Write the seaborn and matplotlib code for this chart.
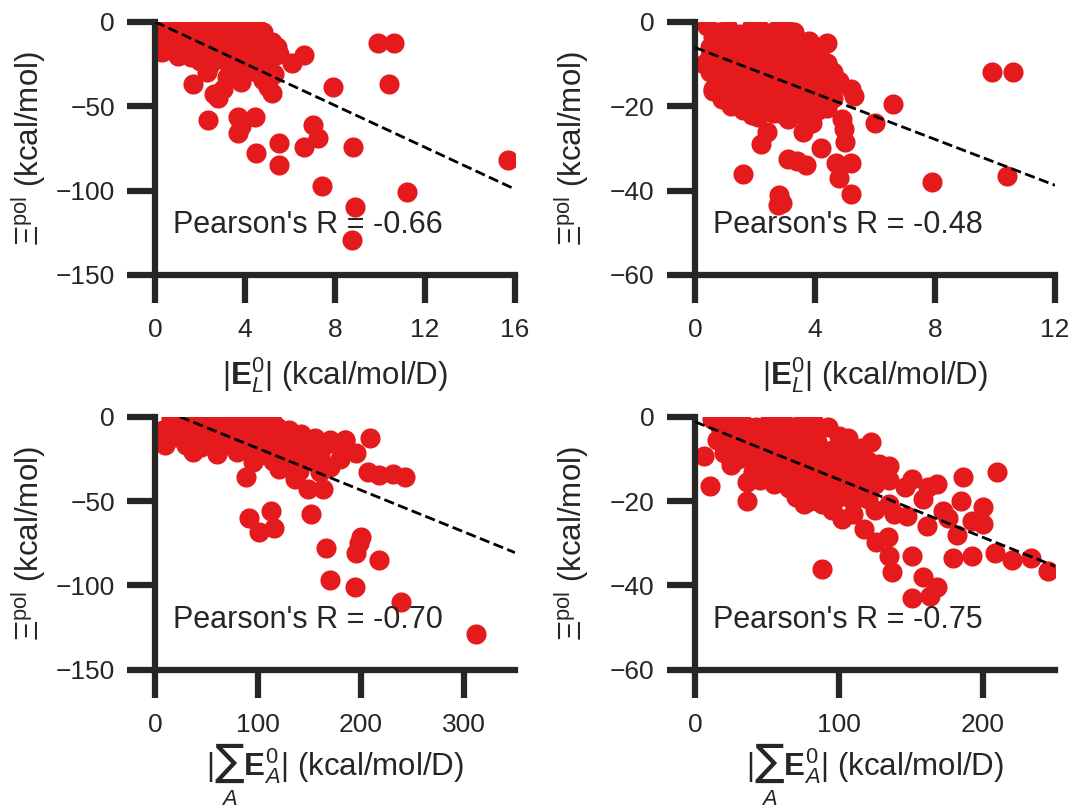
import matplotlib
matplotlib.use("Agg")
import matplotlib.pyplot as plt
import seaborn as sns
import numpy as np
import pandas as pd

# ---------------- data ----------------
# top-left: |E_L^0| vs Xi_pol (set 1)
tl_x = [0.3, 0.6, 0.9, 1.2, 1.5, 1.8, 2.1, 2.4, 2.7, 3.0, 3.3, 3.6, 3.9, 4.2, 4.5,
        0.5, 1.0, 1.5, 2.0, 2.5, 3.0, 3.5, 4.0, 4.6,
        0.4, 0.8, 1.1, 1.4, 1.7, 2.0, 2.3, 2.6, 2.9, 3.2, 3.5, 3.8, 4.1, 4.4, 4.8,
        0.4, 0.9, 1.6, 2.3, 2.9, 3.6, 4.2, 5.4,
        0.6, 1.0, 1.3, 1.9, 2.2, 2.5, 2.8, 3.1, 3.4, 3.7, 4.0, 4.3, 4.6, 4.9, 5.2,
        1.0, 1.6, 2.6, 3.4, 4.1, 4.8, 5.5,
        2.0, 2.4, 2.9, 3.3, 3.6, 3.9, 4.2, 4.6, 5.0, 5.3,
        4.5, 3.4, 0.2, 0.3,
        9.9, 10.6, 10.4, 7.9, 15.7, 6.6, 6.1, 1.7, 2.36, 3.7, 4.45, 3.8, 3.7, 7.0, 7.25,
        5.5, 6.6, 8.8, 4.5, 5.5, 7.4, 11.2, 8.9, 8.75, 2.8, 2.6, 3.0, 5.2, 5.0, 2.3,
        3.8, 3.2, 4.8, 5.3]
tl_y = [-3, -2, -4, -1, -3, -2, -5, -1, -3, -2, -4, -1, -3, -2, -3,
        -5.5, -6, -5, -6.5, -5.5, -6, -5, -6.5, -5.5,
        -9, -11, -7, -10, -8, -12, -9, -7, -11, -8, -10, -7, -11, -9, -6,
        -13, -13.5, -12.5, -13, -14, -12.5, -13, -15,
        -16, -14, -18, -15, -19, -14, -17, -20, -15, -18, -14, -17, -13, -16, -12,
        -20, -21, -20.5, -21, -20, -20.5, -19,
        -23, -26, -22, -25, -28, -23, -26, -22, -25, -20,
        -30, -30, -12, -18,
        -12.4, -12.4, -36.8, -38.5, -81.8, -19.6, -24.5, -36.8, -58, -56.5, -56.5, -62, -66, -61, -68.6,
        -71.9, -74, -74, -78, -85, -97, -101, -110, -129, -45, -43, -40, -42, -38.5, -29.6,
        -35.6, -32.6, -34.4, -31]

# top-right: |E_L^0| vs Xi_pol (set 2)
tr_x = [0.4, 0.8, 1.1, 1.5, 1.9, 2.2, 2.6, 3.0, 3.3,
        0.6, 1.0, 1.4, 1.8, 2.2, 2.6, 3.0, 3.4, 3.8,
        0.5, 0.9, 1.3, 1.7, 2.1, 2.5, 2.9, 3.3, 3.7, 4.2,
        0.5, 0.9, 1.3, 1.7, 2.1, 2.5, 2.9, 3.3, 3.7, 4.1,
        0.3, 0.7, 1.1, 1.5, 1.9, 2.3, 2.7, 3.1, 3.5, 3.9, 4.4,
        0.5, 0.9, 1.3, 1.7, 2.1, 2.5, 2.9, 3.3, 3.7, 4.1, 4.6,
        0.8, 1.2, 1.6, 2.0, 2.4, 2.8, 3.2, 3.6, 4.0, 4.4, 4.8,
        0.6, 1.0, 1.4, 1.8, 2.2, 2.6, 3.0, 3.4, 3.8, 4.2,
        1.0, 1.4, 1.8, 2.2, 2.6, 3.0, 3.4, 3.8, 4.2, 4.6,
        1.2, 1.8, 2.4, 3.0, 3.6, 4.4,
        1.6, 2.1, 2.6, 3.1, 3.6, 4.1,
        9.9, 10.6, 10.4, 7.9, 6.6, 6.0, 1.6, 2.8, 2.9, 2.75, 5.2, 4.8, 4.7, 5.2, 3.7,
        3.1, 3.4, 4.2, 2.2, 2.4, 4.9, 4.95, 5.0, 4.1, 4.4, 2.7, 3.2, 4.4, 5.2, 5.3,
        4.6, 0.6, 0.9, 1.9, 3.6, 3.9, 2.8]
tr_y = [-1, -2.5, -1.5, -3, -1, -2, -3, -1.5, -2.5,
        -3.5, -4, -3.5, -4, -3.5, -4, -3.5, -4, -4.5,
        -6, -5, -7, -5.5, -6.5, -5, -7, -6, -5, -6,
        -8, -8.5, -8, -8.5, -8, -8.5, -8, -8.5, -8, -8.5,
        -10, -9, -11, -9.5, -10.5, -9, -11, -10, -9.5, -11, -10,
        -12, -12.5, -12, -12.5, -12, -12.5, -12, -12.5, -12, -12.5, -12,
        -14, -13, -15, -13.5, -14.5, -13, -15, -14, -13.5, -15, -14,
        -16, -16.5, -16, -16.5, -16, -16.5, -16, -16.5, -16, -16.5,
        -18, -17, -19, -17.5, -18.5, -17, -19, -18, -17.5, -18,
        -20, -20.5, -20, -20.5, -20, -20.5,
        -21, -22.5, -21.5, -23, -22, -21,
        -12, -12, -36.5, -38, -19.5, -24, -36, -41, -43, -43.5, -40.7, -37, -33.4, -33.4, -34,
        -32.5, -33, -30, -29, -26, -23, -25.5, -28.5, -6, -5, -2, -3, -9.7, -16, -17.6,
        -15.5, -16.5, -18.4, -22, -26, -24, -21.5]

# bottom-left: |sum_A E_A^0| vs Xi_pol (set 1)
bl_x = [15, 25, 35, 45, 55, 65, 75, 85, 95, 105, 115,
        8, 22, 34, 46, 58, 70, 82, 94, 106, 118, 130, 142,
        20, 35, 50, 65, 80, 95, 110, 125, 140, 155, 170, 185,
        10, 30, 45, 60, 75, 90, 105, 120, 135, 150, 165, 180, 195,
        37, 60, 80, 100, 120, 140, 160, 180,
        95, 115, 135, 155, 170,
        120, 140, 160,
        312, 239, 194, 170, 218, 195, 200, 198, 166, 152, 91, 101, 113, 116, 88,
        243, 231, 218, 207, 209, 185, 149, 163, 136]
bl_y = [-1, -3, -1.5, -2, -0.5, -3, -1, -2.5, -1.5, -3, -4,
        -8, -6, -7.5, -6, -8, -7, -6.5, -8, -7, -6, -8, -10,
        -12, -11, -13, -12, -11.5, -13, -12, -11, -13, -12.5, -14, -13.6,
        -16.6, -17, -18, -16, -17.5, -18, -16.5, -17, -18, -19, -17, -18, -21.5,
        -20.7, -22, -21, -23, -22, -23, -24, -25,
        -27, -26, -28, -27, -30,
        -31, -32, -33,
        -128.6, -109.7, -100.8, -96.6, -84.8, -80.6, -71, -75, -77.7, -57.5, -60, -68.6, -56, -66, -36,
        -36, -33.8, -34.4, -32.6, -12.6, -13.6, -43, -43, -37]

# bottom-right: |sum_A E_A^0| vs Xi_pol (set 2)
br_x = [12, 22, 32, 42, 52, 62, 72, 78, 82,
        17, 27, 37, 47, 57, 67,
        20, 30, 40, 50, 60, 70, 80, 92, 100,
        15, 25, 35, 45, 55, 65, 75, 85,
        25, 35, 45, 55, 65, 75, 85, 95, 106, 115, 122,
        20, 30, 40, 50, 60, 70, 80, 90, 100, 110,
        6, 30, 40, 50, 60, 70, 80, 90, 100, 110, 120, 128,
        25, 45, 55, 65, 75, 85, 95, 105, 115,
        40, 50, 60, 70, 80, 90, 100, 110, 120, 130, 135,
        45, 60, 70, 80, 90, 100, 110, 120, 135,
        36, 55, 65, 75, 85, 95, 105, 115, 125, 146, 151,
        10.5, 36, 70, 80, 90, 100, 110, 120,
        76, 88, 95, 110, 125,
        245, 233, 220, 208, 192, 179, 210, 186, 185, 200, 192, 200, 182, 172, 176,
        161, 168, 162, 158, 135, 138, 147, 151, 137, 134, 135, 126, 117, 102, 88,
        158, 168, 163, 151, 19]
br_y = [-0.5, -2, -1, -2.5, -0.5, -1.5, -2, -1.5, -1,
        -2.5, -3, -2.5, -3, -2.5, -3,
        -4, -3.5, -5, -4, -3, -5, -4, -2.4, -4.5,
        -5.5, -6, -5.5, -6, -5.5, -6, -5.5, -6,
        -7, -8, -6.5, -7.5, -8, -6.5, -7, -8, -5, -7.5, -6,
        -8.5, -9, -8.5, -9, -8.5, -9, -8.5, -9, -8.5, -9,
        -9.4, -10, -11, -9.5, -10.5, -11, -9.5, -10, -11, -10, -10.5, -11.3,
        -11.5, -12, -11.5, -12, -11.5, -12, -11.5, -12, -11.5,
        -13, -14, -12.5, -13.5, -14, -12.5, -13, -14.5, -13, -14, -11.8,
        -15, -15.5, -15, -15.5, -15, -15.5, -15, -15.5, -15,
        -15.5, -16, -17, -16, -17, -16.5, -16, -17, -16, -16.7, -14.8,
        -16.5, -20, -19, -20, -19.5, -19, -20, -19.5,
        -20.7, -20.7, -22, -23, -22,
        -36.5, -33.6, -34, -32.3, -33, -33.6, -13.2, -14.4, -20, -21.4, -24.7, -25.4, -28, -22.4, -24,
        -26, -16, -16.7, -19.5, -20.7, -23, -23.5, -33, -36.7, -28.5, -33, -29.6, -26.6, -24.2, -36.2,
        -37.9, -40.3, -42.6, -43, -5.9]

# fitted regression lines (intercept, slope) and Pearson's R
fit_intercepts = [0.0, -6.1, 5.9, -1.2]
fit_slopes = [-6.2, -2.72, -0.247, -0.137]
pearson_r = [-0.66, -0.48, -0.70, -0.75]

x_ticks = [[0, 4, 8, 12, 16], [0, 4, 8, 12], [0, 100, 200, 300], [0, 100, 200]]
y_ticks = [[0, -50, -100, -150], [0, -20, -40, -60], [0, -50, -100, -150], [0, -20, -40, -60]]
x_limits = [16, 12, 350, 250]
y_limits = [-150, -60, -150, -60]

xlabel_EL = r"$|\mathbf{E}_{L}^{0}|$ (kcal/mol/D)"
xlabel_EA = r"$|\underset{A}{\mathcal{\sum}}\mathbf{E}_{A}^{0}|$ (kcal/mol/D)"
xlabel_EA_plain = r"$|\sum_{A}\mathbf{E}_{A}^{0}|$ (kcal/mol/D)"
ylabel = r"$\Xi^{\mathrm{pol}}$ (kcal/mol)"
x_labels = [xlabel_EL, xlabel_EL, xlabel_EA, xlabel_EA]

# ---------------- style ----------------
sns.set_theme(style="ticks")
plt.rcParams.update({
    "font.family": ["Liberation Sans", "DejaVu Sans"],
    "mathtext.fontset": "custom",
    "mathtext.rm": "Liberation Sans",
    "mathtext.it": "Liberation Sans:italic",
    "mathtext.bf": "Liberation Sans:bold",
    "mathtext.sf": "Liberation Sans",
    "mathtext.cal": "DejaVu Sans Display",
    "axes.linewidth": 4.5,
    "axes.edgecolor": "#262626",
    "xtick.major.width": 4.5,
    "ytick.major.width": 4.5,
    "xtick.major.size": 20,
    "ytick.major.size": 20,
    "xtick.major.pad": 11,
    "ytick.major.pad": 9,
    "xtick.labelsize": 19,
    "ytick.labelsize": 19,
    "axes.labelsize": 22.5,
    "text.color": "#262626",
    "axes.labelcolor": "#262626",
    "xtick.color": "#262626",
    "ytick.color": "#262626",
})

fig, axes = plt.subplots(2, 2, figsize=(10.7, 8.08), dpi=100)
fig.subplots_adjust(left=0.145, right=0.986, bottom=0.171, top=0.973,
                    wspace=0.5, hspace=0.56)

datasets = [(tl_x, tl_y), (tr_x, tr_y), (bl_x, bl_y), (br_x, br_y)]
xlabel_y = [-0.431, -0.431, -0.418, -0.418]
ylabel_x = [-0.297, -0.288, -0.297, -0.288]

for i, ax in enumerate(axes.flat):
    xs, ys = datasets[i]
    df = pd.DataFrame({"x": xs, "y": ys})
    sns.scatterplot(data=df, x="x", y="y", ax=ax, color="#E41A1C", s=210,
                    linewidth=0, alpha=1, zorder=2)
    ax.axline((0, fit_intercepts[i]), slope=fit_slopes[i], color="black",
              ls="--", lw=2, zorder=3)
    ax.set_xlim(0, x_limits[i])
    ax.set_ylim(y_limits[i], 0)
    ax.set_xticks(x_ticks[i])
    ax.set_yticks(y_ticks[i])
    ax.set_xlabel(x_labels[i])
    ax.set_ylabel(ylabel)
    ax.xaxis.set_label_coords(0.5, xlabel_y[i])
    ax.xaxis.label.set_verticalalignment("baseline")
    ax.yaxis.set_label_coords(ylabel_x[i], 0.5)
    ax.text(0.05, 0.165, f"Pearson's R = {pearson_r[i]:.2f}",
            transform=ax.transAxes, fontsize=22, color="#262626", zorder=4)
    sns.despine(ax=ax)

try:
    fig.savefig("out.png", dpi=100)
except Exception:
    for ax in axes[1]:
        ax.set_xlabel(xlabel_EA_plain)
        ax.xaxis.label.set_verticalalignment("baseline")
    fig.savefig("out.png", dpi=100)
